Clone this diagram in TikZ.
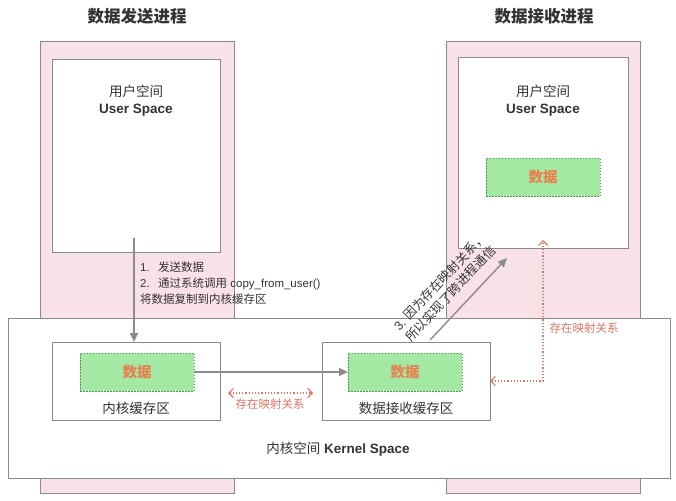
\documentclass[tikz,border=0pt]{standalone}
\usepackage{fontspec}
\setmainfont{Liberation Sans}
\newfontfamily\cjk{Noto Sans CJK SC}
\usetikzlibrary{arrows.meta}
\definecolor{pinkfill}{HTML}{F8E2E7}
\definecolor{boxgray}{HTML}{8A8A8A}
\definecolor{greenfill}{HTML}{A3E9A4}
\definecolor{greenborder}{HTML}{4E9A52}
\definecolor{dataorange}{HTML}{E8804F}
\definecolor{mapred}{HTML}{E07562}
\definecolor{arrowgray}{HTML}{8C8C8C}
\definecolor{textdark}{HTML}{333333}
\begin{document}
\begin{tikzpicture}[x=1pt,y=-1pt,
  pinkbox/.style={draw=boxgray, fill=pinkfill, line width=1pt, inner sep=0pt, outer sep=0pt, minimum width=194pt, minimum height=451pt},
  whitebox/.style={draw=boxgray, fill=white, line width=1pt, inner sep=0pt, outer sep=0pt},
  databox/.style={draw=greenborder, fill=greenfill, dash pattern=on 1.5pt off 1.5pt, line width=1pt, minimum width=114pt, minimum height=38pt, inner sep=0pt, outer sep=0pt, text=dataorange, font=\fontsize{14.5}{16}\selectfont\cjk\bfseries},
  grayarrow/.style={draw=arrowgray, line width=1.6pt, -{Triangle[length=9pt,width=8pt]}},
  redarrow/.style={draw=mapred, line width=1.2pt, dotted, {Straight Barb[length=4.5pt,width=9pt]}-{Straight Barb[length=4.5pt,width=9pt]}},
  title/.style={text=textdark, font=\fontsize{16.5}{18}\selectfont\cjk\bfseries},
  lbl/.style={text=textdark, font=\fontsize{13.5}{15}\selectfont},
  blbl/.style={text=textdark, font=\fontsize{13.5}{15}\selectfont\bfseries},
  small/.style={text=textdark, font=\fontsize{11.5}{16}\selectfont},
  redlbl/.style={text=mapred, font=\fontsize{11.5}{13}\selectfont\cjk}
]
\useasboundingbox (0,0) rectangle (676,500);
% process backgrounds
\node[pinkbox] (lp) at (137,267.5) {};
\node[pinkbox] (rp) at (543,267.5) {};
% user spaces
\node[whitebox, minimum width=168pt, minimum height=192pt] (lu) at (136,156) {};
\node[whitebox, minimum width=170pt, minimum height=190pt] (ru) at (543,153) {};
% kernel space
\node[whitebox, minimum width=662pt, minimum height=160pt] (k) at (339,398) {};
\node[whitebox, minimum width=168pt, minimum height=78pt] (lb) at (136,381) {};
\node[whitebox, minimum width=168pt, minimum height=78pt] (mb) at (406,381) {};
% data boxes
\node[databox] (ld) at (137,372) {数据};
\node[databox] (md) at (405,372) {数据};
\node[databox] (rd) at (543,177) {数据};
% titles
\node[title] (t1) at (137,16) {数据发送进程};
\node[title] (t2) at (544,16) {数据接收进程};
% user space labels
\node[lbl] (lu1) at (136,91) {\cjk 用户空间};
\node[blbl] (lu2) at (136,110) {User Space};
\node[lbl] (ru1) at (543,91) {\cjk 用户空间};
\node[blbl] (ru2) at (543,110) {User Space};
% kernel labels
\node[lbl] (lbt) at (136,408) {\cjk 内核缓存区};
\node[lbl] (mbt) at (406,408) {\cjk 数据接收缓存区};
\node[blbl] (kt) at (338,449) {{\cjk\mdseries 内核空间} Kernel Space};
% send arrow and text
\coordinate (dstart) at (134,238);
\draw[grayarrow] (dstart) -- (dstart |- lb.north);
\node[small, anchor=north west, align=left, inner sep=0pt] (steps) at (140,262)
  {\makebox[18pt][l]{1.}{\cjk 发送数据}\\\makebox[18pt][l]{2.}{\cjk 通过系统调用} copy\_from\_user()\\{\cjk 将数据复制到内核缓存区}};
% kernel-to-kernel arrow
\draw[grayarrow] (ld.east) -- (md.west);
% mapping left
\coordinate (m1) at (228,393);
\coordinate (m2) at (313,393);
\draw[redarrow] (m1) -- (m2);
\node[redlbl] (ml) at (270,404) {存在映射关系};
% mapping right
\coordinate (rc) at (543,381);
\coordinate (rt) at (543,240);
\draw[redarrow] (mb.east) -- (rc) -- (rt);
\node[redlbl, anchor=west] (mr) at (546,328) {存在映射关系};
% diagonal arrow
\coordinate (ds) at (430,340);
\coordinate (de) at (507,258);
\draw[grayarrow, line width=1.4pt] (ds) -- (de);
\node[small, rotate=47, align=left, inner sep=0pt, font=\fontsize{12.5}{16}\selectfont] (dt) at (445.5,287.5)
  {3. {\cjk 因为存在映射关系，}\\{\cjk 所以实现了跨进程通信}};
\end{tikzpicture}
\end{document}
